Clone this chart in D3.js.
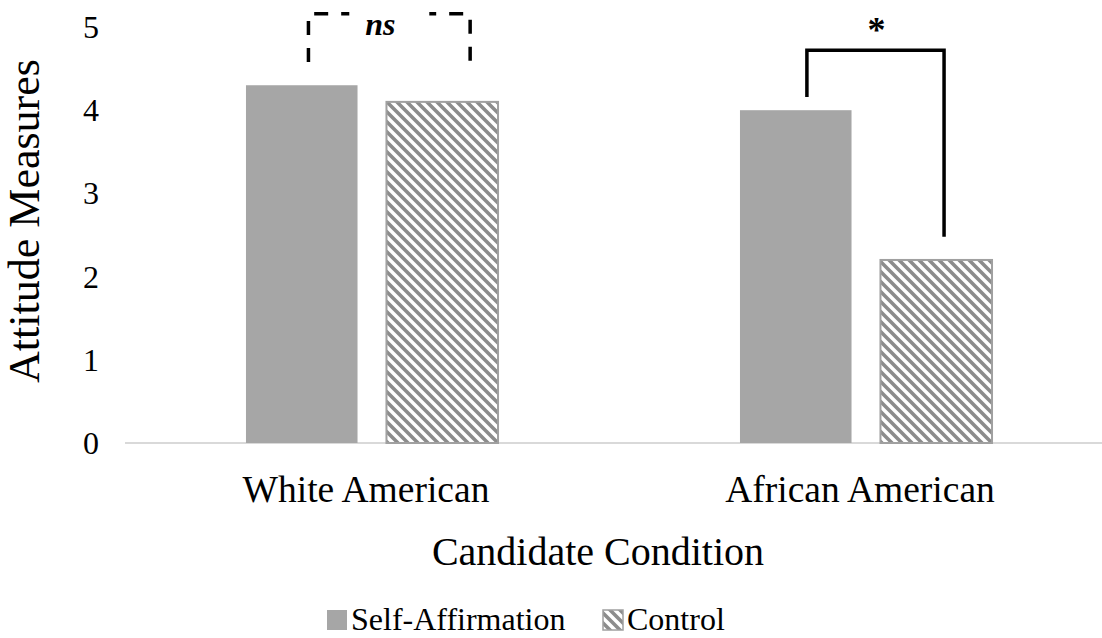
<!DOCTYPE html>
<html>
<head>
  <meta charset="utf-8">
</head>
<body style="margin:0; background:#fff">
  <svg width="1102" height="638"></svg>
  <script src="https://d3js.org/d3.v7.min.js"></script>
  <script>
    const categories = ["White American", "African American"];
    const series = ["Self-Affirmation", "Control"];
    const selfAffirmation = [4.3, 4.0];
    const control = [4.1, 2.2];
    const yTicks = [0, 1, 2, 3, 4, 5];

    // significance brackets, heights in data units
    const brackets = [
      { cat: 0, label: "ns", top: 5.16, left: 4.58, right: 4.57, dashed: true },
      { cat: 1, label: "*", top: 4.72, left: 4.16, right: 2.48, dashed: false }
    ];

    const FONT = "Liberation Serif";
    const svg = d3.select("svg");

    const y = d3.scaleLinear().domain([0, 5]).range([443, 27]);
    const x0 = d3.scaleBand().domain(categories).range([125, 1113]);
    const x1 = d3.scaleBand().domain(series).range([0, x0.bandwidth()])
      .paddingInner(0.206).paddingOuter(0.861);

    const defs = svg.append("defs");
    const pat = defs.append("pattern")
      .attr("id", "hatch")
      .attr("patternUnits", "userSpaceOnUse")
      .attr("width", 10).attr("height", 10);
    pat.append("rect").attr("width", 10).attr("height", 10).attr("fill", "#fff");
    pat.append("path")
      .attr("d", "M-5,-5 L15,15 M-5,5 L5,15 M5,-5 L15,5")
      .attr("stroke", "#8c8c8c").attr("stroke-width", 3.6);

    // axis line
    svg.append("line")
      .attr("x1", 125).attr("x2", 1102)
      .attr("y1", y(0)).attr("y2", y(0))
      .attr("stroke", "#d9d9d9").attr("stroke-width", 2);

    // y tick labels
    svg.append("g").selectAll("text")
      .data(yTicks)
      .join("text")
      .attr("font-family", FONT)
      .attr("font-size", 32)
      .attr("x", 99)
      .attr("y", d => y(d) + 11)
      .attr("text-anchor", "end")
      .text(d => d);

    const rows = categories.map((c, i) => ({ cat: c, vals: [selfAffirmation[i], control[i]] }));

    const groups = svg.append("g").selectAll("g")
      .data(rows)
      .join("g")
      .attr("transform", d => `translate(${x0(d.cat)},0)`);

    groups.selectAll("rect")
      .data(d => d.vals.map((v, j) => ({ s: series[j], v })))
      .join("rect")
      .attr("x", d => x1(d.s))
      .attr("y", d => y(d.v))
      .attr("width", x1.bandwidth())
      .attr("height", d => y(0) - y(d.v))
      .attr("fill", d => d.s === "Control" ? "url(#hatch)" : "#a6a6a6")
      .attr("stroke", d => d.s === "Control" ? "#a0a0a0" : "none")
      .attr("stroke-width", 2);

    // category labels
    svg.append("g").selectAll("text")
      .data(categories)
      .join("text")
      .attr("font-family", FONT)
      .attr("font-size", 37.5)
      .attr("x", d => x0(d) + x0.bandwidth() / 2 - 6)
      .attr("y", 502)
      .attr("text-anchor", "middle")
      .text(d => d);

    // axis titles
    svg.append("text")
      .attr("font-family", FONT)
      .attr("font-size", 40)
      .attr("x", 598).attr("y", 565)
      .attr("text-anchor", "middle")
      .text("Candidate Condition");

    svg.append("text")
      .attr("font-family", FONT)
      .attr("font-size", 44)
      .attr("transform", "translate(39,221) rotate(-90)")
      .attr("text-anchor", "middle")
      .text("Attitude Measures");

    // brackets
    brackets.forEach(b => {
      const cat = categories[b.cat];
      const xl = x0(cat) + x1("Self-Affirmation") + x1.bandwidth() * (b.dashed ? 0.56 : 0.6);
      const xr = x0(cat) + x1("Control") + x1.bandwidth() * (b.dashed ? 0.75 : 0.57);
      const path = svg.append("path")
        .attr("d", `M${xl},${y(b.left)} V${y(b.top)} H${xr} V${y(b.right)}`)
        .attr("fill", "none")
        .attr("stroke", "#000")
        .attr("stroke-width", 3.5);
      const mid = (xl + xr) / 2;
      if (b.dashed) {
        path.attr("stroke-dasharray", "14,13");
        svg.append("rect")
          .attr("x", mid - 40).attr("y", y(b.top) - 6)
          .attr("width", 80).attr("height", 12)
          .attr("fill", "#fff");
        svg.append("text")
          .attr("font-family", FONT)
          .attr("x", mid - 9).attr("y", 35)
          .attr("text-anchor", "middle")
          .attr("font-size", 32).attr("font-weight", "bold").attr("font-style", "italic")
          .text(b.label);
      } else {
        svg.append("text")
          .attr("font-family", FONT)
          .attr("x", mid + 1).attr("y", 42)
          .attr("text-anchor", "middle")
          .attr("font-size", 36).attr("font-weight", "bold")
          .text(b.label);
      }
    });

    // legend
    const legend = svg.append("g");
    const legX = [327, 603];
    series.forEach((s, i) => {
      legend.append("rect")
        .attr("x", legX[i]).attr("y", 610)
        .attr("width", 20).attr("height", 20)
        .attr("fill", i === 0 ? "#a6a6a6" : "url(#hatch)")
        .attr("stroke", i === 0 ? "none" : "#a0a0a0")
        .attr("stroke-width", 1.5);
      legend.append("text")
        .attr("font-family", FONT)
        .attr("font-size", 32)
        .attr("x", legX[i] + 24).attr("y", 630)
        .text(s);
    });
  </script>
</body>
</html>
